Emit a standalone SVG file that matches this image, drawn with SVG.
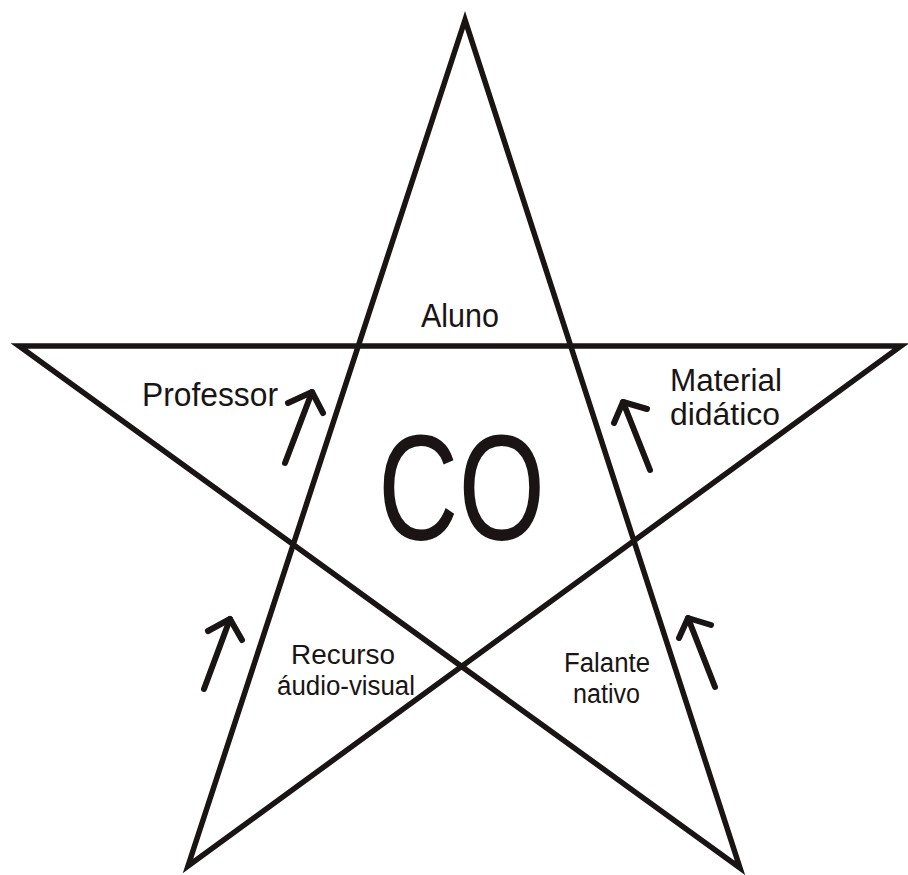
<svg xmlns="http://www.w3.org/2000/svg" width="908" height="875" viewBox="0 0 908 875">
<style>
.star{fill:none;stroke:#1a1414;stroke-width:5.5;stroke-linejoin:miter;stroke-miterlimit:6}
.arr{fill:none;stroke:#1a1414;stroke-width:6;stroke-linecap:round;stroke-linejoin:round}
text{font-family:"Liberation Sans",Arial,sans-serif;fill:#1a1414}
.lbl{font-size:34px}
.md{font-size:31px}
.sm{font-size:27px}
</style>
<rect width="908" height="875" fill="#fff"/>
<g id="star">
<polygon class="star" points="465,20 188,866 901,346 19,346 740,868"/>
</g>
<g id="connectors">
<line class="arr" x1="285" y1="463" x2="312" y2="392"/>
<polyline class="arr" points="288,403 312,392 323,413"/>
<line class="arr" x1="650" y1="470" x2="623" y2="402"/>
<polyline class="arr" points="614,423 623,402 647,409"/>
<line class="arr" x1="204" y1="689" x2="230" y2="619"/>
<polyline class="arr" points="208,631 230,619 242,640"/>
<line class="arr" x1="715" y1="687" x2="688" y2="618"/>
<polyline class="arr" points="679,638 688,618 711,625"/>
</g>
<g id="aluno"><text class="lbl" x="421" y="327" textLength="78" lengthAdjust="spacingAndGlyphs">Aluno</text></g>
<g id="professor"><text class="lbl" x="142" y="406" textLength="136" lengthAdjust="spacingAndGlyphs">Professor</text></g>
<g id="material"><text class="md" x="670" y="391" textLength="112" lengthAdjust="spacingAndGlyphs">Material</text><text class="md" x="670" y="425" textLength="110" lengthAdjust="spacingAndGlyphs">didático</text></g>
<g id="co"><text x="378" y="540" font-size="150" textLength="167" lengthAdjust="spacingAndGlyphs">CO</text></g>
<g id="recurso"><text class="sm" x="291" y="664" textLength="104" lengthAdjust="spacingAndGlyphs">Recurso</text><text class="sm" x="277" y="695" textLength="138" lengthAdjust="spacingAndGlyphs">áudio-visual</text></g>
<g id="falante"><text class="sm" x="564" y="672" textLength="86" lengthAdjust="spacingAndGlyphs">Falante</text><text class="sm" x="573" y="703" textLength="67" lengthAdjust="spacingAndGlyphs">nativo</text></g>
</svg>
